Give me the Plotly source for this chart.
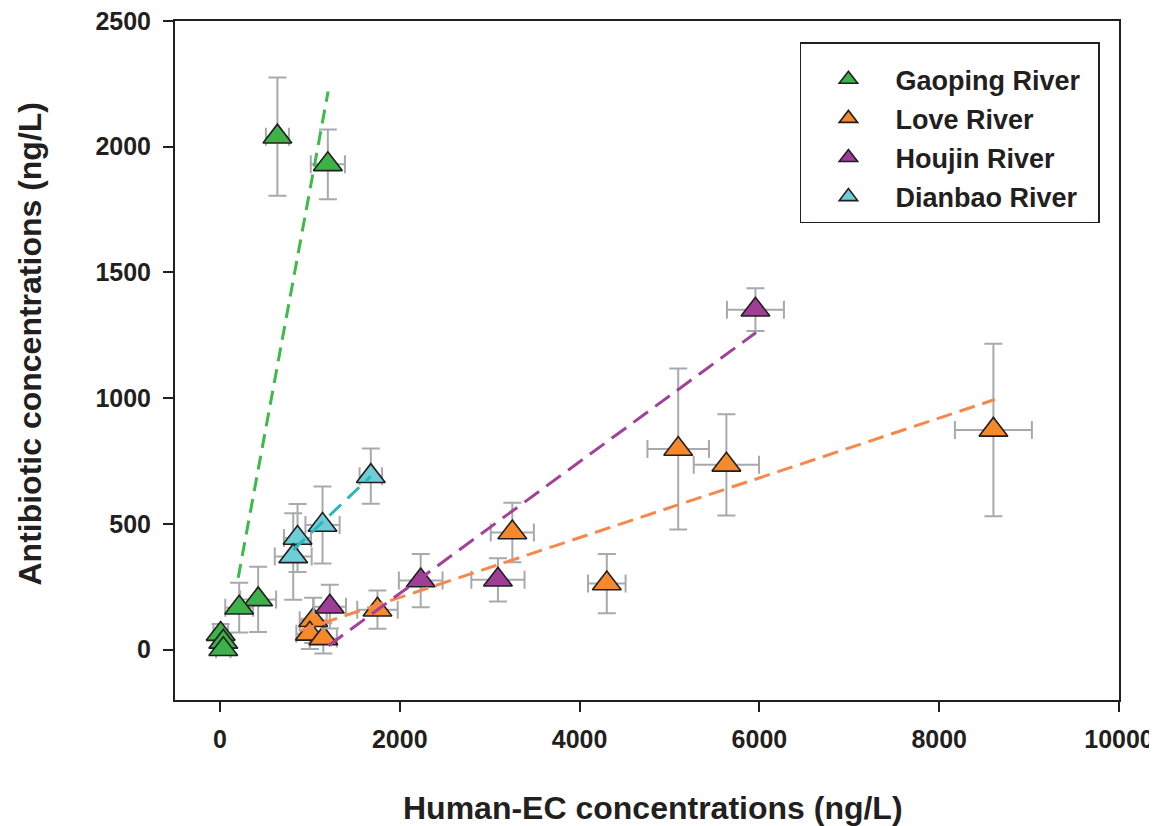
import numpy as np
import plotly.graph_objects as go

# ---- data ----
rivers = ["Gaoping River", "Love River", "Houjin River", "Dianbao River"]

gaoping_x = [639, 1200, 425, 214, 8, 37, 37]
gaoping_y = [2040, 1930, 200, 167, 62, 31, 2]
gaoping_xerr = [128, 190, 200, 155, 80, 80, 80]
gaoping_yerr = [235, 139, 130, 99, 40, 30, 20]

love_x = [8603, 5097, 5633, 4303, 3252, 1752, 1037, 1000, 1150]
love_y = [874, 798, 735, 263, 466, 159, 117, 63, 45]
love_xerr = [428, 342, 363, 209, 240, 225, 150, 150, 150]
love_yerr = [343, 320, 201, 118, 118, 76, 90, 60, 60]

houjin_x = [5956, 3092, 2233, 1222]
houjin_y = [1352, 278, 275, 171]
houjin_xerr = [317, 296, 243, 180]
houjin_yerr = [85, 86, 106, 87]

dianbao_x = [1678, 1141, 863, 815]
dianbao_y = [690, 496, 444, 371]
dianbao_xerr = [125, 190, 150, 205]
dianbao_yerr = [110, 153, 135, 172]

# regression lines: slope, intercept, x-start, x-end
fit_slope = [1.933, 0.1189, 0.2618, 0.3395]
fit_intercept = [-106, -30, -300, 120]
fit_xmin = [203, 880, 1207, 815]
fit_xmax = [1203, 8619, 5963, 1678]

x_ticks = [0, 2000, 4000, 6000, 8000, 10000]
x_tick_labels = ["0", "2000", "4000", "6000", "8000", "10000"]
y_ticks = [0, 500, 1000, 1500, 2000, 2500]
y_tick_labels = ["0", "500", "1000", "1500", "2000", "2500"]

# ---- styles ----
marker_colors = ["#3db24b", "#f5892b", "#9e3e96", "#6ecdd6"]
line_colors = ["#3cba4a", "#f7884a", "#a2409b", "#2ab8bb"]
line_dash = ["14px,8px", "16px,8px", "18px,9px", "16px,9px"]
err_color = "#a7a9ac"
ink = "#231f20"
FONT = "Liberation Sans, Arial, Helvetica, sans-serif"

series = [
    (gaoping_x, gaoping_y, gaoping_xerr, gaoping_yerr),
    (love_x, love_y, love_xerr, love_yerr),
    (houjin_x, houjin_y, houjin_xerr, houjin_yerr),
    (dianbao_x, dianbao_y, dianbao_xerr, dianbao_yerr),
]

fig = go.Figure()

for i, (xs, ys, xe, ye) in enumerate(series):
    fig.add_trace(go.Scatter(
        x=xs, y=ys, mode="markers", name=rivers[i], legendgroup=rivers[i],
        marker=dict(symbol="triangle-up", size=25, color=marker_colors[i],
                    line=dict(color=ink, width=1.6)),
        error_x=dict(type="data", array=xe, color=err_color, thickness=2, width=9),
        error_y=dict(type="data", array=ye, color=err_color, thickness=2, width=9),
    ))

for i in range(4):
    fx = np.linspace(fit_xmin[i], fit_xmax[i], 50)
    fy = fit_slope[i] * fx + fit_intercept[i]
    fig.add_trace(go.Scatter(
        x=fx, y=fy, mode="lines", showlegend=False, hoverinfo="skip",
        line=dict(color=line_colors[i], width=3, dash=line_dash[i]),
    ))

axis_common = dict(
    showgrid=False, zeroline=False, showline=True, linecolor=ink, linewidth=2,
    mirror=True, ticks="outside", ticklen=10, tickwidth=1.5, tickcolor=ink,
    automargin=False, ticklabeloverflow="allow",
    tickfont=dict(family=FONT, size=25, color=ink, weight="bold"),
)

fig.update_xaxes(range=[-500, 10000], tickvals=x_ticks, ticktext=x_tick_labels,
                 ticklabelstandoff=6, **axis_common)
fig.update_yaxes(range=[-200, 2500], tickvals=y_ticks, ticktext=y_tick_labels,
                 ticklabelstandoff=7, **axis_common)

# the page body adds an offset, so the figure is sized to fit the window
fig.update_layout(
    width=1149, height=818,
    margin=dict(l=167, r=38, t=13, b=126, autoexpand=False),
    plot_bgcolor="white", paper_bgcolor="white",
    font=dict(family=FONT, color=ink),
    legend=dict(
        x=0.662, y=0.969, xanchor="left", yanchor="top",
        bgcolor="white", bordercolor=ink, borderwidth=1.5,
        font=dict(family=FONT, size=27, color=ink, weight="bold"),
        itemwidth=84, tracegroupgap=1,
        title=dict(text="&nbsp;" * 117, font=dict(size=9)),
    ),
    annotations=[
        dict(text="Human-EC concentrations (ng/L)", xref="paper", yref="paper",
             x=0.506, y=-0.159, xanchor="center", yanchor="middle", showarrow=False,
             font=dict(family=FONT, size=32, color=ink, weight="bold")),
        dict(text="Antibiotic concentrations (ng/L)", xref="paper", yref="paper",
             x=-0.1536, y=0.525, xanchor="center", yanchor="middle", showarrow=False,
             textangle=-90,
             font=dict(family=FONT, size=32, color=ink, weight="bold")),
    ],
)

fig.write_html("out.html")
